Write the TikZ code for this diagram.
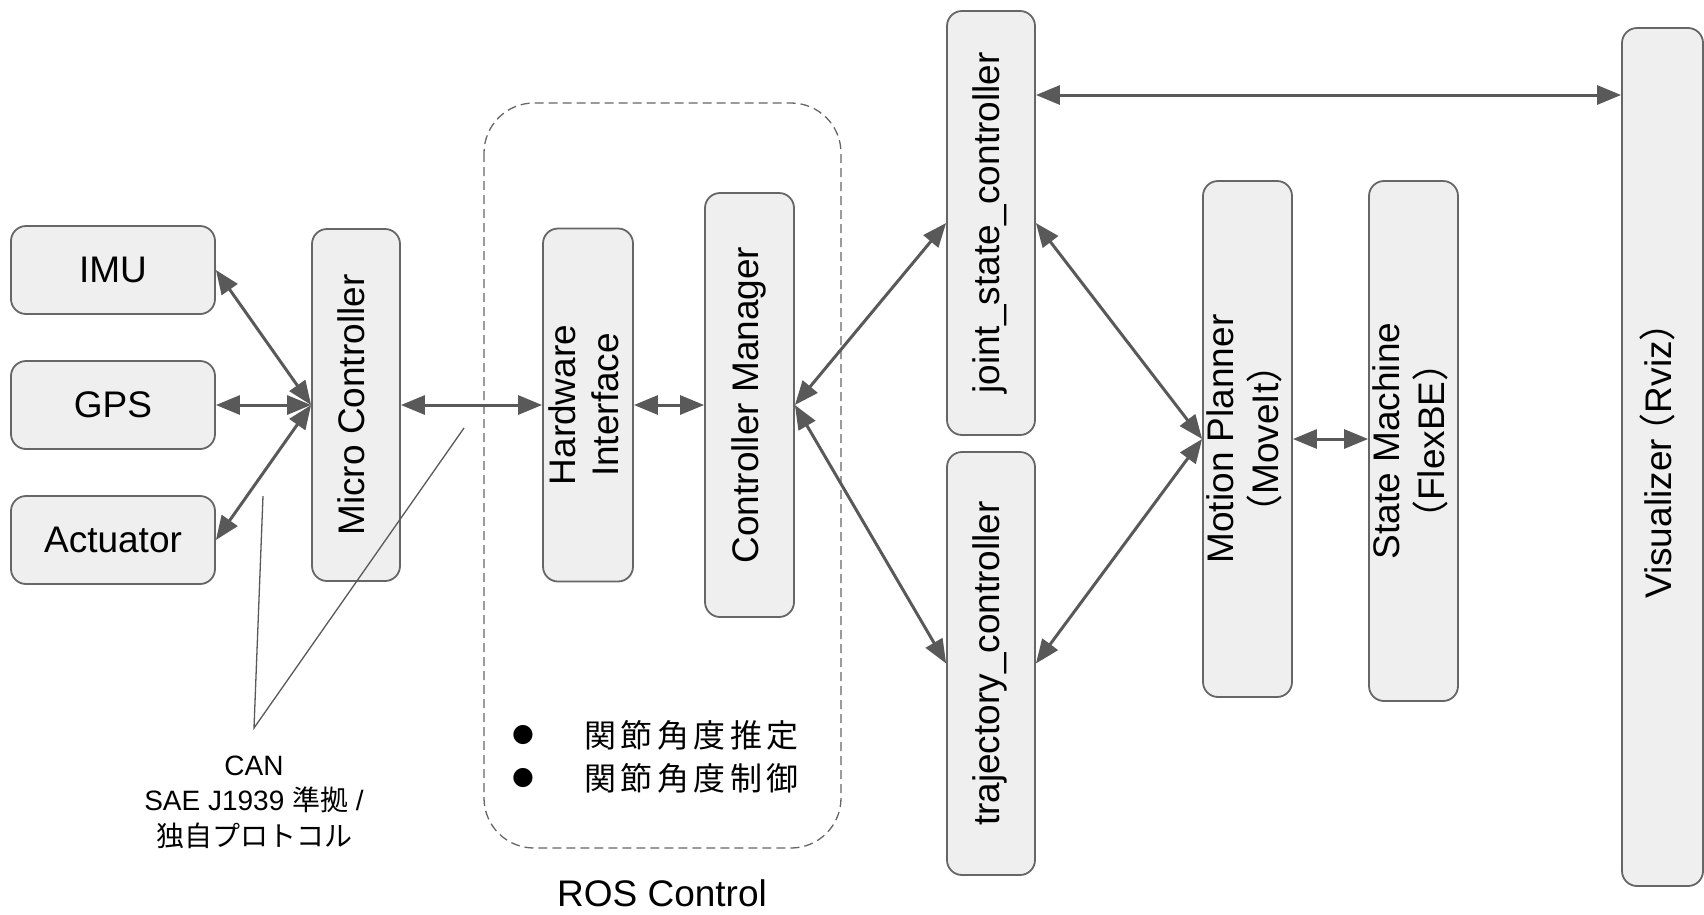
\documentclass[tikz,border=0pt]{standalone}
\usepackage{fontspec}
\setmainfont{Liberation Sans}
\newfontfamily\jpfont{Noto Sans CJK JP}
\newfontfamily\jpwide{Noto Sans CJK JP}[LetterSpace=14]
\newfontfamily\dotfont{DejaVu Sans}
\usetikzlibrary{arrows.meta}

\definecolor{boxline}{HTML}{666666}
\definecolor{boxfill}{HTML}{EFEFEF}
\definecolor{linkgray}{HTML}{595959}

% vertical label, several lines allowed
\newcommand{\vlabel}[1]{\rotatebox{90}{\begin{tabular}{@{}c@{}}#1\end{tabular}}}

\tikzset{
  block/.style={draw=boxline, fill=boxfill, line width=1.8pt, rounded corners=15pt,
    inner sep=0pt, font=\fontsize{37}{43}\selectfont},
  link/.style={draw=linkgray, line width=3pt,
    {Triangle[length=24pt,width=19pt]}-{Triangle[length=24pt,width=19pt]}},
  note/.style={draw=linkgray, line width=1.3pt},
}

\begin{document}
\begin{tikzpicture}[x=1pt, y=-1pt]
\useasboundingbox (0,0) rectangle (1704,914);

% ros_control frame
\draw[boxline, line width=1.3pt, dash pattern=on 9pt off 5pt, rounded corners=50pt] (484,103) rectangle (841,848);
\node[anchor=base, font=\fontsize{37}{40}\selectfont] (roslabel) at (662,906) {ROS Control};

% devices
\node[block, minimum width=204pt, minimum height=88pt] (imu) at (113,270) {IMU};
\node[block, minimum width=204pt, minimum height=88pt] (gps) at (113,405) {GPS};
\node[block, minimum width=204pt, minimum height=88pt] (act) at (113,540) {Actuator};
\node[block, minimum width=88pt, minimum height=352pt] (mc) at (356,405) {\vlabel{Micro Controller}};

% ros_control parts
\node[block, minimum width=90pt, minimum height=353pt] (hwif) at (588,405) {\vlabel{Hardware\\Interface}};
\node[block, minimum width=89pt, minimum height=424pt] (cmgr) at (749.5,405) {\vlabel{Controller Manager}};

% controllers
\node[block, minimum width=88pt, minimum height=424pt] (jsc) at (991,223) {\vlabel{joint\_state\_controller}};
\node[block, minimum width=88pt, minimum height=423pt] (traj) at (991,663.5) {\vlabel{trajectory\_controller}};

% planning side
\node[block, minimum width=89pt, minimum height=516pt] (planner) at (1247.5,439) {\vlabel{Motion Planner\\{\jpfont （}MoveIt{\jpfont ）}}};
\node[block, minimum width=89pt, minimum height=520pt] (fsm) at (1413.5,441) {\vlabel{State Machine\\{\jpfont （}FlexBE{\jpfont ）}}};
\node[block, minimum width=81pt, minimum height=858pt] (viz) at (1662.5,457) {\vlabel{Visualizer\kern-.3em{\jpfont （}Rviz{\jpfont ）}\kern-.3em}};

% links
\draw[link] (imu.east) -- (mc.west);
\draw[link] (gps.east) -- (mc.west);
\draw[link] (act.east) -- (mc.west);
\draw[link] (mc.east) -- (hwif.west);
\draw[link] (hwif.east) -- (cmgr.west);
\draw[link] (cmgr.east) -- (jsc.west);
\draw[link] (cmgr.east) -- (traj.west);
\draw[link] (jsc.east) -- (planner.west);
\draw[link] (traj.east) -- (planner.west);
\draw[link] (planner.east) -- (planner.east -| fsm.west);
\coordinate (vizlink) at (1300,95);
\draw[link] (jsc.east |- vizlink) -- (viz.west |- vizlink);

% bus note
\coordinate (canpt) at (254,728);
\coordinate (canbus) at (263,496);
\coordinate (hwbus) at (464,428);
\draw[note] (canbus) -- (canpt) -- (hwbus);
\node[align=center, font=\fontsize{28}{35.5}\selectfont] (canlabel) at (254,802)
  {CAN\\SAE J1939 {\jpfont 準拠} /\\{\jpfont 独自プロトコル}};

% ros_control duties
\node[font=\dotfont\fontsize{25}{25}\selectfont] (dotA) at (523,735) {●};
\node[font=\dotfont\fontsize{25}{25}\selectfont] (dotB) at (523,778) {●};
\node[anchor=west, inner sep=0pt, font=\jpwide\fontsize{32}{32}\selectfont] (estimate) at (584,735) {関節角度推定};
\node[anchor=west, inner sep=0pt, font=\jpwide\fontsize{32}{32}\selectfont] (control) at (584,778) {関節角度制御};

\end{tikzpicture}
\end{document}
